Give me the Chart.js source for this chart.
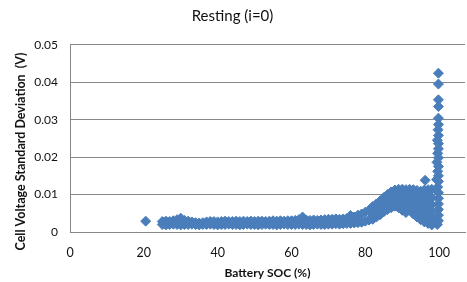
<!DOCTYPE html>
<html>
<head>
    <meta charset="utf-8">
    <script src="https://cdn.jsdelivr.net/npm/chart.js"></script>
    <title>Resting (i=0)</title>
    <style>
        html, body {
            margin: 0;
            padding: 0;
            background: #fff;
            overflow: hidden;
        }
        .chart-box {
            width: 467px;
            height: 282px;
            overflow: hidden;
        }
    </style>
</head>
<body>

<div class="chart-box">
    <canvas id="restingChart" width="492" height="282"></canvas>
</div>

<script>
    // tick labels
    var xTickLabels = ['0', '20', '40', '60', '80', '100'];
    var yTickLabels = ['0', '0.01', '0.02', '0.03', '0.04', '0.05'];

    // lone point at low SOC
    var loneSoc = [20.5];
    var loneStd = [0.0029];

    // flat band, read as upper and lower edge of the cloud
    var bandSoc = [25, 26, 27, 28, 29, 30, 31, 32, 33, 34, 35, 36, 37, 38, 39, 40, 41, 42, 43, 44,
                   45, 46, 47, 48, 49, 50, 51, 52, 53, 54, 55, 56, 57, 58, 59, 60, 61, 62, 63, 64,
                   65, 66, 67, 68, 69, 70, 71, 72, 73, 74, 75, 76, 77, 78, 79, 80, 81];
    var bandTop = [0.0028, 0.0029, 0.0028, 0.0030, 0.0033, 0.0037, 0.0031, 0.0029, 0.0027, 0.0025,
                   0.0024, 0.0025, 0.0027, 0.0028, 0.0028, 0.0027, 0.0028, 0.0029, 0.0028, 0.0028,
                   0.0029, 0.0028, 0.0029, 0.0028, 0.0029, 0.0028, 0.0029, 0.0029, 0.0028, 0.0029,
                   0.0030, 0.0029, 0.0030, 0.0029, 0.0030, 0.0030, 0.0031, 0.0033, 0.0040, 0.0032,
                   0.0031, 0.0032, 0.0031, 0.0032, 0.0033, 0.0034, 0.0034, 0.0035, 0.0034, 0.0035,
                   0.0036, 0.0044, 0.0040, 0.0045, 0.0048, 0.0053, 0.0058];
    var bandBottom = [0.0020, 0.0019, 0.0020, 0.0021, 0.0020, 0.0019, 0.0020, 0.0020, 0.0021, 0.0020,
                      0.0019, 0.0020, 0.0020, 0.0021, 0.0020, 0.0019, 0.0020, 0.0020, 0.0021, 0.0020,
                      0.0020, 0.0019, 0.0020, 0.0021, 0.0020, 0.0020, 0.0019, 0.0020, 0.0021, 0.0020,
                      0.0020, 0.0019, 0.0020, 0.0021, 0.0020, 0.0020, 0.0020, 0.0021, 0.0020, 0.0020,
                      0.0019, 0.0020, 0.0021, 0.0020, 0.0020, 0.0021, 0.0021, 0.0022, 0.0021, 0.0022,
                      0.0023, 0.0023, 0.0024, 0.0025, 0.0026, 0.0029, 0.0032];

    // hump near full charge, edges
    var humpSoc = [82, 83, 84, 85, 86, 87, 88, 89, 90, 91, 92, 93, 94, 95, 96, 97, 98];
    var humpTop = [0.0068, 0.0075, 0.0083, 0.0092, 0.0100, 0.0107, 0.0112, 0.0114, 0.0114, 0.0113,
                   0.0114, 0.0113, 0.0111, 0.0109, 0.0112, 0.0113, 0.0114];
    var humpBottom = [0.0034, 0.0040, 0.0046, 0.0054, 0.0060, 0.0065, 0.0069, 0.0065, 0.0058, 0.0052,
                      0.0059, 0.0048, 0.0040, 0.0033, 0.0027, 0.0023, 0.0019];

    // hump, points inside the cloud
    var humpFillSoc = [82, 83, 84, 85, 86, 87, 88, 89, 89, 90, 90, 91, 91, 92, 92,
                       93, 93, 93, 94, 94, 94, 95, 95, 95, 96, 96, 96, 96, 96.2,
                       97, 97, 97, 97, 98, 98, 98, 98];
    var humpFillStd = [0.0051, 0.0057, 0.0064, 0.0073, 0.0080, 0.0086, 0.0090, 0.0081, 0.0098, 0.0075, 0.0095, 0.0070, 0.0092, 0.0076, 0.0095,
                       0.0064, 0.0081, 0.0097, 0.0058, 0.0076, 0.0094, 0.0052, 0.0071, 0.0090, 0.0045, 0.0064, 0.0083, 0.0098, 0.0138,
                       0.0041, 0.0059, 0.0077, 0.0095, 0.0037, 0.0055, 0.0073, 0.0091];

    // spike at 100% SOC
    var spikeSoc = [99.8, 99.8, 99.8, 99.8, 99.8, 99.8, 99.7, 99.8, 99.5, 99.8, 99.8, 99.6, 99.8, 99.4,
                    99.8, 99.6, 99.8, 99.3, 99.8, 99.6, 99.8, 99.8, 99.8, 99.8, 99.8, 99.8, 99.5];
    var spikeStd = [0.0424, 0.0395, 0.0353, 0.0335, 0.0304, 0.0287, 0.0273, 0.0258, 0.0245, 0.0236, 0.0222, 0.0210, 0.0198, 0.0186,
                    0.0175, 0.0162, 0.0150, 0.0140, 0.0135, 0.0120, 0.0105, 0.0090, 0.0075, 0.0060, 0.0045, 0.0030, 0.0020];

    function pairUp(xs, ys) {
        return xs.map(function (x, i) { return { x: x, y: ys[i] }; });
    }

    var points = [].concat(
        pairUp(loneSoc, loneStd),
        pairUp(bandSoc, bandTop),
        pairUp(bandSoc, bandBottom),
        pairUp(humpSoc, humpTop),
        pairUp(humpSoc, humpBottom),
        pairUp(humpFillSoc, humpFillStd),
        pairUp(spikeSoc, spikeStd)
    );

    // y axis title drawn by hand so it can sit off-centre like the original
    var yTitlePlugin = {
        id: 'yTitle',
        afterDraw: function (chart) {
            var ctx = chart.ctx;
            ctx.save();
            ctx.translate(21, 151.5);
            ctx.rotate(-Math.PI / 2);
            ctx.font = 'bold 12.5px Lato';
            ctx.fillStyle = '#111';
            ctx.textAlign = 'center';
            ctx.textBaseline = 'middle';
            ctx.fillText('Cell Voltage Standard Deviation  (V)', 0, 0);
            ctx.restore();
        }
    };

    var gridGrey = '#878787';

    var ctx = document.getElementById('restingChart').getContext('2d');
    var restingChart = new Chart(ctx, {
        type: 'scatter',
        data: {
            datasets: [
                {
                    label: 'Resting',
                    data: points,
                    pointStyle: 'rectRot',
                    pointRadius: 5,
                    pointBorderWidth: 1,
                    backgroundColor: '#4A7EBB',
                    borderColor: '#4A7EBB'
                }
            ]
        },
        options: {
            responsive: false,
            animation: false,
            layout: {
                padding: { left: 0, right: 27, top: 0, bottom: 0 }
            },
            plugins: {
                legend: { display: false },
                tooltip: { enabled: false },
                title: {
                    display: true,
                    text: 'Resting (i=0)',
                    color: '#111',
                    font: { family: 'Lato', size: 15, weight: 'normal', lineHeight: 1.25 },
                    padding: { top: 7, bottom: 19 }
                }
            },
            scales: {
                x: {
                    type: 'linear',
                    min: 0,
                    max: 107,
                    afterFit: function (scale) { scale.height = 50; },
                    grid: { display: false, drawTicks: false },
                    border: { display: true, color: gridGrey },
                    ticks: {
                        stepSize: 20,
                        includeBounds: false,
                        padding: 13,
                        color: '#111',
                        font: { family: 'Lato', size: 12.5 },
                        callback: function (v, i) { return xTickLabels[i]; }
                    },
                    title: {
                        display: true,
                        text: 'Battery SOC (%)',
                        color: '#111',
                        font: { family: 'Lato', size: 12, weight: 'bold' },
                        padding: { top: 0, bottom: 2 }
                    }
                },
                y: {
                    min: 0,
                    max: 0.05,
                    afterFit: function (scale) { scale.width = 70; },
                    grid: { color: gridGrey, drawTicks: false },
                    border: { display: true, color: gridGrey },
                    ticks: {
                        stepSize: 0.01,
                        padding: 12,
                        color: '#111',
                        font: { family: 'Lato', size: 12 },
                        callback: function (v, i) { return yTickLabels[i]; }
                    }
                }
            }
        },
        plugins: [yTitlePlugin]
    });
</script>

</body>
</html>
